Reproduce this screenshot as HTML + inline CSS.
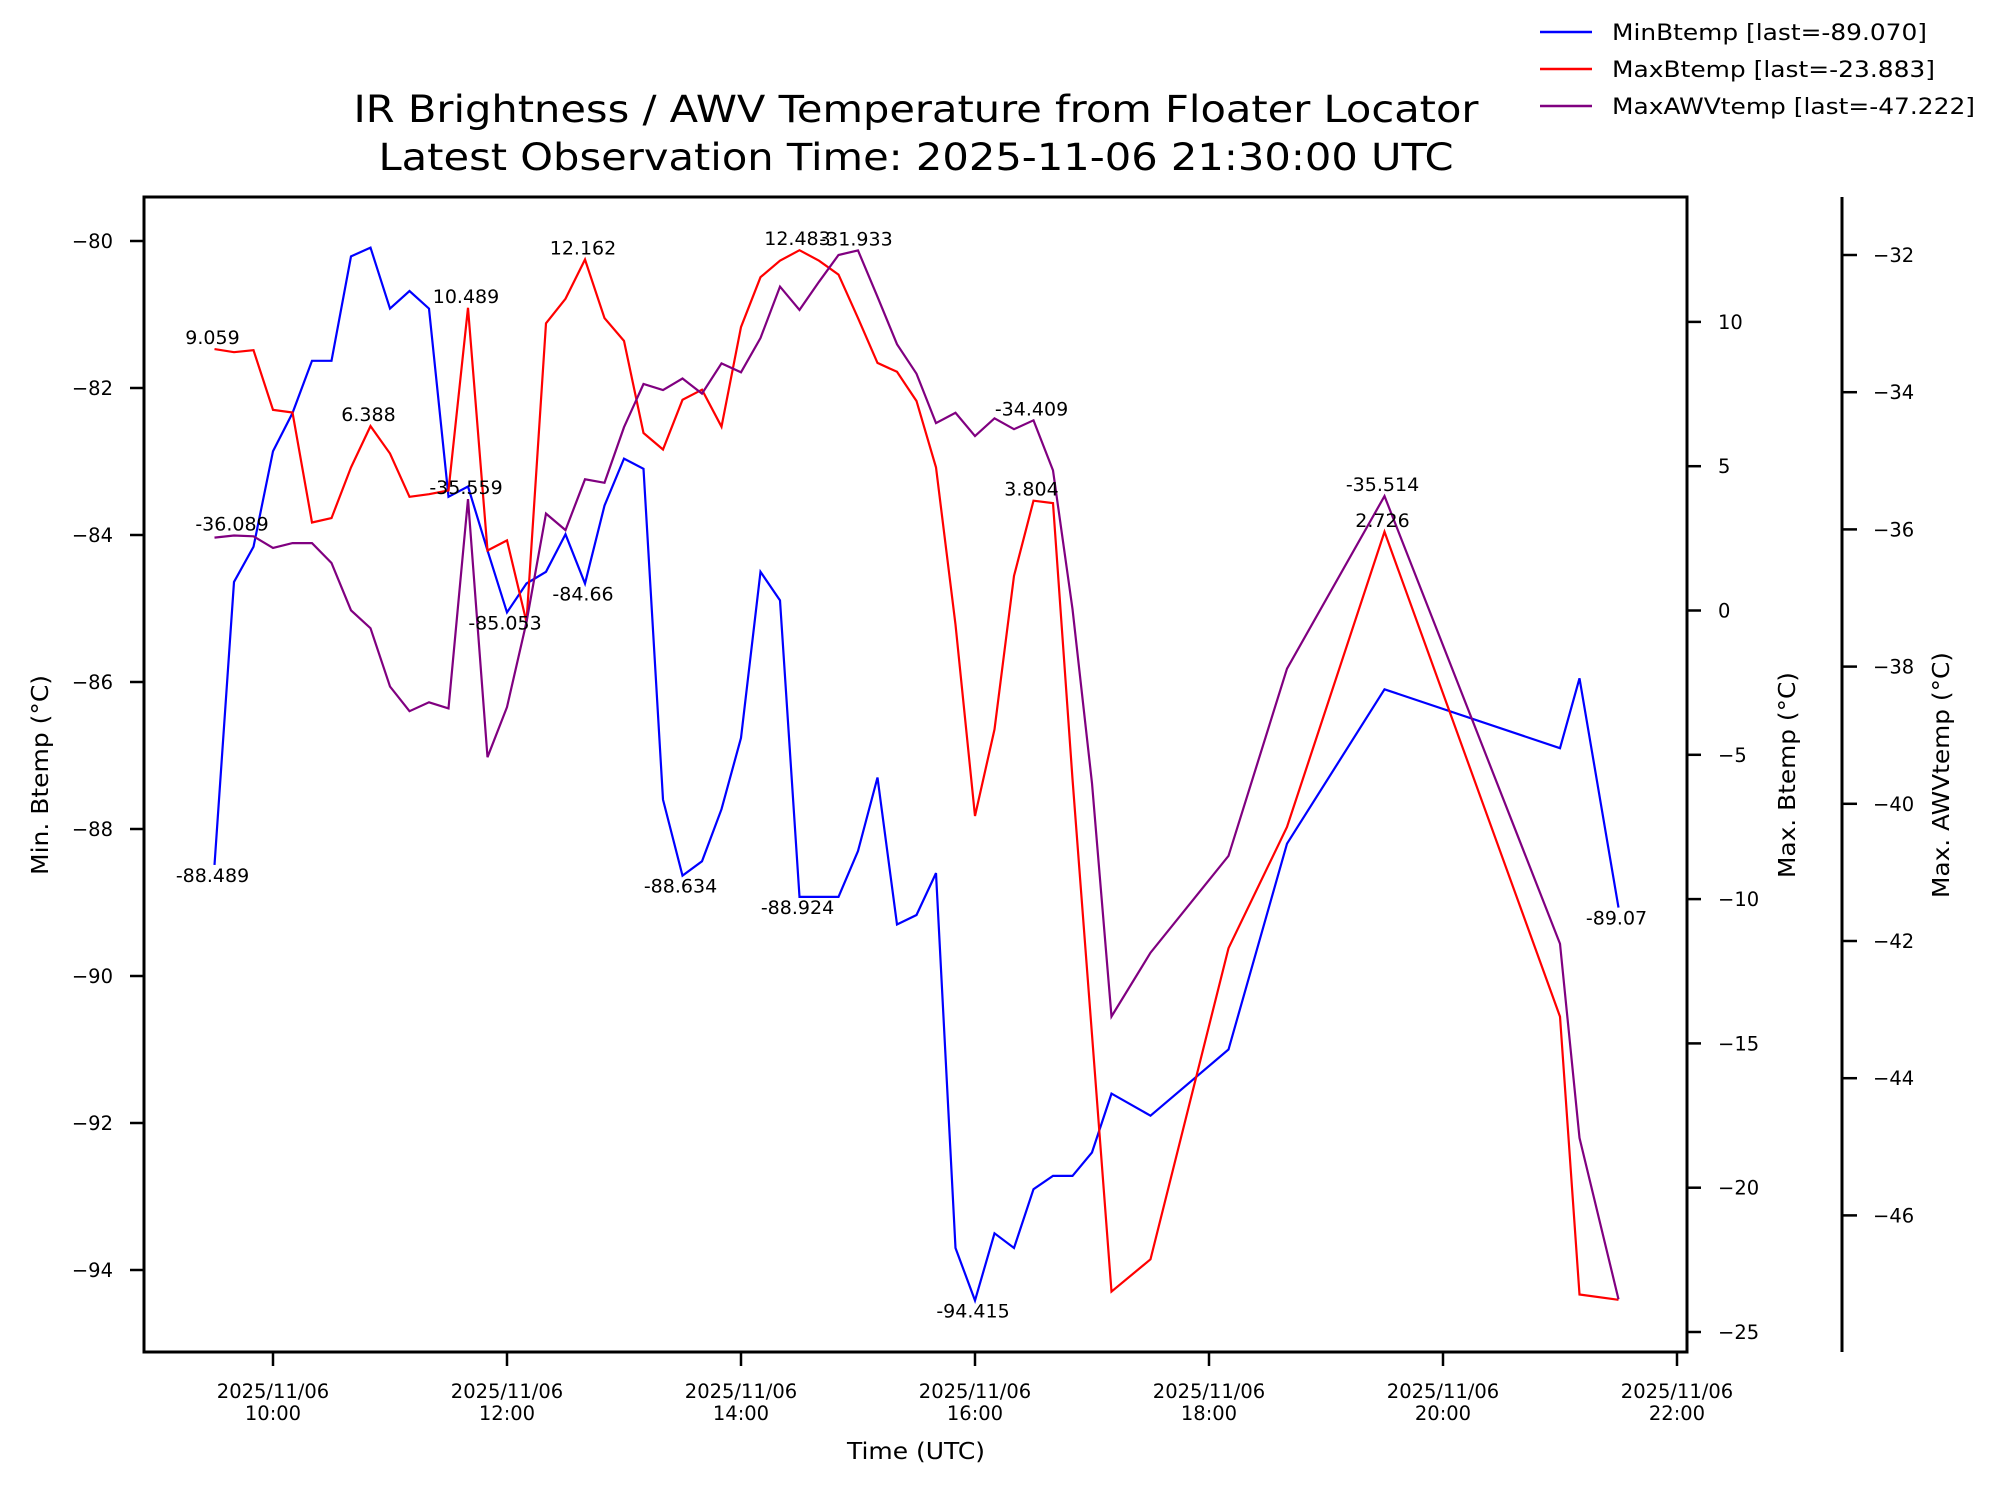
<!DOCTYPE html>
<html><head><meta charset="utf-8"><style>
html,body{margin:0;padding:0;background:#fff;}
svg{display:block;font-family:"DejaVu Sans","Liberation Sans",sans-serif;}
</style></head><body>
<svg id="chart" width="1998" height="1495" viewBox="0 0 1998 1495" xmlns="http://www.w3.org/2000/svg">
<rect width="1998" height="1495" fill="#fff"/>
<text x="916" y="122" font-size="37" text-anchor="middle" textLength="1125" lengthAdjust="spacingAndGlyphs">IR Brightness / AWV Temperature from Floater Locator</text>
<text x="916" y="170" font-size="37" text-anchor="middle" textLength="1075" lengthAdjust="spacingAndGlyphs">Latest Observation Time: 2025-11-06 21:30:00 UTC</text>
<g id="axes"></g>
<g id="marks"></g>
<g id="labels"></g>
<g>
<line x1="1540" y1="32" x2="1592" y2="32" stroke="#0000ff" stroke-width="2.5"/>
<text x="1612" y="40" font-size="22.5" textLength="315" lengthAdjust="spacingAndGlyphs">MinBtemp [last=-89.070]</text>
<line x1="1540" y1="69" x2="1592" y2="69" stroke="#ff0000" stroke-width="2.5"/>
<text x="1612" y="77" font-size="22.5" textLength="323" lengthAdjust="spacingAndGlyphs">MaxBtemp [last=-23.883]</text>
<line x1="1540" y1="106" x2="1592" y2="106" stroke="#800080" stroke-width="2.5"/>
<text x="1612" y="114" font-size="22.5" textLength="363" lengthAdjust="spacingAndGlyphs">MaxAWVtemp [last=-47.222]</text>
</g>
<text x="916" y="1459" font-size="23" text-anchor="middle" textLength="138" lengthAdjust="spacingAndGlyphs">Time (UTC)</text>
<text transform="translate(48,775) rotate(-90)" font-size="23" text-anchor="middle" textLength="200" lengthAdjust="spacingAndGlyphs">Min. Btemp (°C)</text>
<text transform="translate(1795,775) rotate(-90)" font-size="23" text-anchor="middle" textLength="206" lengthAdjust="spacingAndGlyphs">Max. Btemp (°C)</text>
<text transform="translate(1949,775) rotate(-90)" font-size="23" text-anchor="middle" textLength="246" lengthAdjust="spacingAndGlyphs">Max. AWVtemp (°C)</text>
</svg>
<script>
// time in minutes since 00:00 UTC
const times = [570,580,590,600,610,620,630,640,650,660,670,680,690,700,710,720,730,740,750,760,770,780,790,800,810,820,830,840,850,860,870,880,890,900,910,920,930,940,950,960,970,980,990,1000,1010,1020,1030,1050,1090,1120,1170,1260,1270,1290];
const minBtemp = [-88.489,-84.64,-84.16,-82.86,-82.34,-81.63,-81.63,-80.21,-80.09,-80.92,-80.68,-80.92,-83.48,-83.34,-84.21,-85.053,-84.66,-84.5,-83.99,-84.66,-83.6,-82.96,-83.1,-87.6,-88.634,-88.44,-87.73,-86.76,-84.5,-84.89,-88.924,-88.924,-88.924,-88.3,-87.3,-89.3,-89.17,-88.6,-93.7,-94.415,-93.5,-93.7,-92.9,-92.72,-92.72,-92.4,-91.6,-91.9,-91.0,-88.2,-86.1,-86.9,-85.95,-89.07];
const maxBtemp = [9.059,8.95,9.02,6.95,6.86,3.05,3.2,4.96,6.388,5.44,3.94,4.03,4.16,10.489,2.08,2.43,-0.4,9.95,10.8,12.162,10.13,9.34,6.15,5.58,7.3,7.65,6.37,9.82,11.55,12.12,12.483,12.12,11.64,10.13,8.58,8.27,7.26,4.96,-0.49,-7.12,-4.12,1.2,3.804,3.72,-5.84,-14.7,-23.6,-22.48,-11.7,-7.5,2.726,-14.07,-23.7,-23.883];
const maxAWV = [-36.12,-36.089,-36.1,-36.27,-36.2,-36.2,-36.49,-37.18,-37.44,-38.29,-38.65,-38.52,-38.61,-35.559,-39.32,-38.59,-37.35,-35.77,-36.01,-35.27,-35.32,-34.51,-33.88,-33.97,-33.8,-34.02,-33.58,-33.71,-33.21,-32.46,-32.8,-32.39,-32.0,-31.933,-32.61,-33.3,-33.73,-34.45,-34.3,-34.64,-34.38,-34.54,-34.409,-35.14,-37.16,-39.7,-43.1,-42.17,-40.76,-38.03,-35.514,-42.04,-44.87,-47.222];
const minLabelIdx = [0,15,19,24,30,39,53];
const maxLabelIdx = [0,8,13,19,30,42,50];
const awvLabelIdx = [1,13,33,42,50];
const xTickMinutes = [600,720,840,960,1080,1200,1320];
const xTickLabels = ["10:00","12:00","14:00","16:00","18:00","20:00","22:00"];
const leftTicks = [-80,-82,-84,-86,-88,-90,-92,-94];
const rightTicks = [10,5,0,-5,-10,-15,-20,-25];
const awvTicks = [-32,-34,-36,-38,-40,-42,-44,-46];

const L=144,R=1687,T=197,B=1352,AX3=1842;
const xS = m => 273 + (m-600)/60*117.0;
const yL = v => 241 + (-80 - v)*73.5;
const yR = v => 610.5 - v*28.86;
const yA = v => 255 + (-32 - v)*68.6;
const NS="http://www.w3.org/2000/svg";
function mk(tag, attrs, parent){const e=document.createElementNS(NS,tag);for(const k in attrs)e.setAttribute(k,attrs[k]);parent.appendChild(e);return e;}
const axes=document.getElementById('axes'), marks=document.getElementById('marks'), labels=document.getElementById('labels');

const frame=mk('rect',{x:L,y:T,width:R-L,height:B-T,fill:'none',stroke:'#000','stroke-width':3},axes);


const sp3=mk('line',{x1:AX3,y1:T,x2:AX3,y2:B,stroke:'#000','stroke-width':3},axes);



xTickMinutes.forEach((m,i)=>{
  const x=xS(m);
  mk('line',{x1:x,y1:B,x2:x,y2:B+14,stroke:'#000','stroke-width':2.5},axes);
  const t=mk('text',{x:x,y:1398,'font-size':19.5,'text-anchor':'middle'},axes);
  
  
  t.textContent='2025/11/06';
  const t2=mk('text',{x:x,y:1420,'font-size':19.5,'text-anchor':'middle'},axes);
  
  
  t2.textContent=xTickLabels[i];
});
leftTicks.forEach(v=>{
  const y=yL(v);
  mk('line',{x1:L-14,y1:y,x2:L,y2:y,stroke:'#000','stroke-width':2.5},axes);
  const t=mk('text',{x:113,y:y+7,'font-size':19.5,'text-anchor':'end'},axes);
  
  
  t.textContent=String(v).replace('-','\u2212');
});
rightTicks.forEach(v=>{
  const y=yR(v);
  mk('line',{x1:R,y1:y,x2:R+14,y2:y,stroke:'#000','stroke-width':2.5},axes);
  const t=mk('text',{x:1718,y:y+7,'font-size':19.5},axes);
  
  
  t.textContent=String(v).replace('-','\u2212');
});
awvTicks.forEach(v=>{
  const y=yA(v);
  mk('line',{x1:AX3,y1:y,x2:AX3+15,y2:y,stroke:'#000','stroke-width':2.5},axes);
  const t=mk('text',{x:1873,y:y+7,'font-size':19.5},axes);
  
  
  t.textContent=String(v).replace('-','\u2212');
});

function series(vals, yf, color, name){
  const pts=vals.map((v,i)=>xS(times[i]).toFixed(1)+','+yf(v).toFixed(1)).join(' ');
  const p=mk('polyline',{points:pts,fill:'none',stroke:color,'stroke-width':2.2,'stroke-linejoin':'miter'},marks);
  
  
}
series(minBtemp,yL,'#0000ff','minbtemp-line');
series(maxBtemp,yR,'#ff0000','maxbtemp-line');
series(maxAWV,yA,'#800080','maxawvtemp-line');

function annotate(idxs, vals, yf, below, name){
  idxs.forEach(i=>{
    const x=xS(times[i]), y=yf(vals[i]);
    const t=mk('text',{x:x-2,y:below? y+17 : y-5,'font-size':19,'text-anchor':'middle'},labels);
    
    
    t.textContent=String(vals[i]);
  });
}
annotate(minLabelIdx,minBtemp,yL,true,'minbtemp-annotation');
annotate(maxLabelIdx,maxBtemp,yR,false,'maxbtemp-annotation');
annotate(awvLabelIdx,maxAWV,yA,false,'maxawvtemp-annotation');
</script>
</body></html>
